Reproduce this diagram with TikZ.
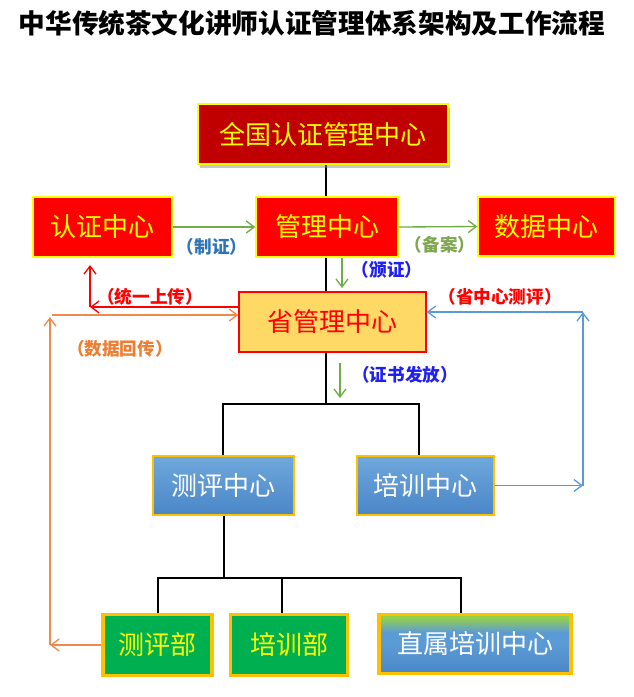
\documentclass[tikz,border=0pt]{standalone}
\usepackage{fontspec}
\setmainfont{Noto Sans CJK SC}
\usetikzlibrary{arrows.meta,shadows,backgrounds}
\definecolor{darkred}{HTML}{C00000}
\definecolor{brightred}{HTML}{FF0000}
\definecolor{yel}{HTML}{FFFF00}
\definecolor{gold}{HTML}{FFC000}
\definecolor{provfill}{HTML}{FFD966}
\definecolor{blueL}{HTML}{6FA8DC}
\definecolor{blueD}{HTML}{4A86C8}
\definecolor{blueM}{HTML}{5B9BD5}
\definecolor{greenL}{HTML}{92D050}
\definecolor{greenbox}{HTML}{00B050}
\definecolor{arrgreen}{HTML}{70AD47}
\definecolor{arrblue}{HTML}{5B9BD5}
\definecolor{arrorange}{HTML}{F08A4B}
\definecolor{lblblue}{HTML}{2E75B6}
\definecolor{lblvivid}{HTML}{2020F0}
\definecolor{lblgreen}{HTML}{7FA650}
\definecolor{lblorange}{HTML}{ED7D31}
\pgfdeclareverticalshading{zhishu}{100bp}{color(0bp)=(blueD); color(25bp)=(blueD); color(50bp)=(blueM); color(60bp)=(blueM); color(72bp)=(greenL); color(100bp)=(greenL)}
\begin{document}
\begin{tikzpicture}[x=0.75pt,y=-0.75pt,
  box/.style={inner sep=0pt, font=\fontsize{19.5}{22}\selectfont, line width=1pt},
  wh/.style 2 args={minimum width=#1*0.75pt, minimum height=#2*0.75pt},
  topbox/.style={box, fill=darkred, draw=yel, text=yel, drop shadow={opacity=0.45, shadow xshift=1.5pt, shadow yshift=-3pt}},
  redbox/.style={box, fill=brightred, draw=yel, text=yel},
  provbox/.style={box, fill=provfill, draw=brightred, text=brightred},
  bluebox/.style={box, top color=blueL, bottom color=blueD, draw=gold, text=white},
  greenb/.style={box, fill=greenbox, draw=gold, line width=2.4pt, text=yel},
  zsbox/.style={box, shading=zhishu, draw=gold, line width=2.4pt, text=white},
  blk/.style={line width=1.4pt, black},
  tip/.style={-{Straight Barb[length=6pt,width=9pt,line width=1pt]}},
  garr/.style={tip, line width=1pt, arrgreen},
  rarr/.style={tip, line width=1pt, brightred},
  oarr/.style={tip, line width=1pt, arrorange},
  barr/.style={tip, line width=1pt, arrblue},
  lbl/.style={inner sep=0pt, font=\fontsize{13.2}{15}\selectfont\bfseries}
]
\useasboundingbox (0,0) rectangle (634,697);

\node[font=\fontsize{20}{24}\selectfont\bfseries] (title) at (312,23) {中华传统茶文化讲师认证管理体系架构及工作流程};

% boxes
\node[topbox, wh={250}{60}] (A) at (323,134) {全国认证管理中心};
\node[redbox, wh={139}{60}] (B) at (102.5,227) {认证中心};
\node[redbox, wh={142}{60}] (C) at (327,227) {管理中心};
\node[redbox, wh={137}{59}] (D) at (546.5,226.5) {数据中心};
\node[provbox, wh={187}{60}] (E) at (332.5,322) {省管理中心};
\node[bluebox, wh={141}{59}] (F) at (223.5,485.5) {测评中心};
\node[bluebox, wh={137}{59}] (G) at (425.5,485.5) {培训中心};
\node[greenb, wh={109}{61}] (H) at (157.5,645) {测评部};
\node[greenb, wh={117}{61}] (I) at (289,645) {培训部};
\node[zsbox, wh={192}{59}] (J) at (475,644) {直属培训中心};

% helper coordinates
\coordinate (tx) at (326,0);
\coordinate (t1y) at (0,404);
\coordinate (t1l) at (223,404);
\coordinate (t1r) at (419,404);
\coordinate (t2y) at (0,578);
\coordinate (t2a) at (158,578);
\coordinate (t2b) at (282,578);
\coordinate (t2c) at (461,578);
\coordinate (fx) at (224,0);

% black tree lines
\begin{scope}[on background layer]
\draw[blk] (tx |- A.south) -- (tx |- E.north);
\end{scope}
\draw[blk] (tx |- E.south) -- (tx |- t1y);
\draw[blk] (t1l |- F.north) -- (t1l) -- (t1r) -- (t1r |- G.north);
\draw[blk] (fx |- F.south) -- (fx |- t2y);
\draw[blk] (t2a |- H.north) -- (t2a) -- (t2c) -- (t2c |- J.north);
\draw[blk] (t2b) -- (t2b |- I.north);

% green arrows
\draw[garr] (B.east) -- (C.west);
\draw[garr] (C.east) -- (D.west);
\coordinate (gx) at (342,0);
\coordinate (gtip) at (342,288);
\draw[garr] (gx |- C.south) -- (gtip);
\coordinate (g2s) at (340,363);
\coordinate (g2e) at (340,398);
\draw[garr] (g2s) -- (g2e);

% red arrow (统一上传)
\coordinate (rY) at (0,307);
\coordinate (rC) at (90,307);
\coordinate (rT) at (90,265);
\draw[rarr] (E.west |- rY) -- (rC);
\draw[rarr] (rC) -- (rT);

% orange arrows (数据回传)
\coordinate (oX) at (50,0);
\coordinate (oT) at (50,317);
\coordinate (oS) at (52,315);
\draw[oarr] (H.west) -- (H.west -| oX);
\draw[oarr] (H.west -| oX) -- (oT);
\draw[oarr] (oS) -- (E.west |- oS);

% blue arrows (省中心测评)
\coordinate (bX) at (583,0);
\coordinate (bT) at (583,312);
\draw[barr] (G.east) -- (G.east -| bX);
\draw[barr] (G.east -| bX) -- (bT);
\draw[barr] (bT) -- (E.east |- bT);

% labels
\node[lbl, text=lblblue] (l1) at (212,247) {（制证）};
\node[lbl, text=lblgreen] (l2) at (440,245) {（备案）};
\node[lbl, text=lblvivid] (l3) at (387,270) {（颁证）};
\node[lbl, text=brightred] (l4) at (150,297) {（统一上传）};
\node[lbl, text=lblorange] (l5) at (120,349) {（数据回传）};
\node[lbl, text=brightred] (l6) at (500,297) {（省中心测评）};
\node[lbl, text=lblvivid] (l7) at (405,375) {（证书发放）};
\end{tikzpicture}
\end{document}
